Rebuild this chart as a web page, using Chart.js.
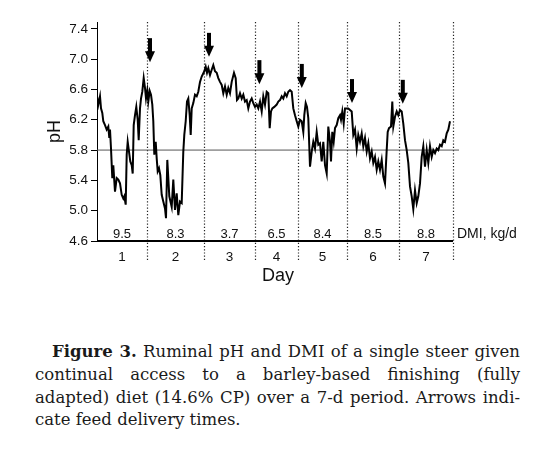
<!DOCTYPE html>
<html>
<head>
<meta charset="utf-8">
<script src="https://cdn.jsdelivr.net/npm/chart.js@4.4.0/dist/chart.umd.min.js"></script>
<style>
  body { margin: 0; background: #fff; }
  #wrap { position: relative; width: 534px; height: 449px; }
  #chartBox { position: absolute; left: 0; top: 0; width: 534px; height: 300px; }
  #caption { position: absolute; left: 35px; top: 341px; width: 485px;
    font-family: "DejaVu Serif", serif; font-size: 16.5px; line-height: 22.8px; color: #1a1a1a; }
  #caption div { text-align: justify; text-align-last: justify; }
  #caption div.first { text-indent: 17px; }
  #caption div.last { text-align: left; text-align-last: left; }
</style>
</head>
<body>
<div id="wrap">
  <div id="chartBox"><canvas id="phChart"></canvas></div>
  <div id="caption">
    <div class="first"><b>Figure 3.</b> Ruminal pH and DMI of a single steer given</div>
    <div>continual access to a barley-based finishing (fully</div>
    <div>adapted) diet (14.6% CP) over a 7-d period. Arrows indi-</div>
    <div class="last">cate feed delivery times.</div>
  </div>
</div>
<script>
// days (dotted lines mark the day boundaries, time in h)
const dayLabels = ['1', '2', '3', '4', '5', '6', '7'];
const dayBounds = [0, 25, 53.5, 79, 100.5, 125, 151, 178];
const dmiValues = ['9.5', '8.3', '3.7', '6.5', '8.4', '8.5', '8.8'];

// feed delivery arrows
const arrowTime = [26.5, 56, 81.2, 102.4, 127.5, 152.9];
const arrowTipPH = [6.96, 7.03, 6.67, 6.62, 6.42, 6.41];

const yTicks = [4.6, 5.0, 5.4, 5.8, 6.2, 6.6, 7.0, 7.4];
const refPH = 5.8;

// ruminal pH trace
const phTime = [0, 0.65, 1.5, 2, 2.65, 3.15, 4, 4.85, 5.65, 6.15, 6.5, 7, 7.65, 8.15, 9, 9.85, 10.65, 11.5, 12.35, 13.15,
  13.65, 14.35, 14.85, 15.35, 16, 16.65, 17.35, 17.85, 18.35, 19, 19.65, 20.35, 20.85, 21.5, 22, 22.65, 23.35, 24, 24.5, 25.15,
  25.65, 26.35, 27, 27.65, 28.15, 28.65, 29.35, 29.85, 30.35, 31, 31.65, 32.35, 33.15, 34, 34.5, 35.15, 36.15, 37.35, 38.15, 39,
  39.85, 40.65, 41.5, 42.35, 43.15, 43.65, 44.35, 45, 45.65, 46.35, 46.85, 47.35, 48.15, 49, 49.85, 50.65, 51.5, 52.35, 53.65, 54.35,
  55, 55.65, 56.5, 57.35, 58.15, 59, 59.85, 60.65, 61.5, 62.35, 63.15, 64, 64.85, 65.65, 66.5, 67.35, 68.5, 69.35, 70, 70.65,
  71.5, 72.35, 73.15, 74, 74.85, 75.65, 76.5, 77.35, 78.15, 79, 79.85, 80.65, 81.5, 82.35, 83.15, 84, 84.85, 85.65, 86.35, 87,
  87.65, 88.65, 89.85, 90.65, 91.5, 92.35, 93.15, 94, 94.85, 95.65, 96.5, 97.35, 98.15, 99, 99.85, 100.65, 101.5, 102.35, 103.15, 103.65,
  104.35, 105, 105.65, 106.5, 107.35, 108.15, 109, 109.85, 110.65, 111.5, 112.35, 113.15, 114, 114.85, 115.65, 116.5, 117, 117.65, 118.35, 119,
  119.85, 120.65, 121.5, 122, 122.65, 123.35, 124, 124.85, 125.65, 126.5, 127.35, 128.15, 129, 129.85, 130.65, 131.5, 132.35, 133.15, 134, 134.85,
  135.65, 136.5, 137.35, 138.15, 139, 139.85, 140.65, 141.5, 142.35, 143.15, 144, 144.85, 145.35, 146, 147, 147.65, 148.15, 149, 149.85, 150.65,
  151.5, 152.35, 153.15, 154, 154.85, 155.65, 156.5, 157.35, 158.15, 159, 159.85, 160.65, 161.5, 162.35, 163.15, 164, 164.85, 165.65, 166.5, 167.35,
  168.15, 169, 169.85, 170.65, 171.5, 172.35, 173.15, 174, 174.85, 175.65, 176.5];
const phValue = [6.51, 6.40, 6.51, 6.35, 6.29, 6.18, 6.13, 6.07, 6.11, 5.96, 6.07, 5.82, 5.43, 5.60, 5.25, 5.43, 5.41, 5.36, 5.21, 5.16,
  5.19, 5.08, 5.74, 5.91, 5.78, 5.65, 5.60, 5.49, 6.13, 6.26, 6.37, 6.20, 5.93, 6.35, 6.48, 6.57, 6.75, 6.62, 6.48, 6.59,
  6.44, 6.58, 6.53, 6.40, 6.18, 5.74, 5.91, 5.69, 5.52, 5.56, 5.47, 5.21, 5.12, 5.03, 4.90, 5.67, 5.19, 5.05, 5.41, 5.01,
  5.23, 4.94, 5.12, 5.10, 5.78, 6.00, 6.18, 6.44, 6.48, 6.26, 6.00, 6.35, 6.42, 6.53, 6.51, 6.57, 6.70, 6.77, 6.84, 6.90,
  6.82, 6.88, 6.79, 6.86, 6.92, 6.84, 6.82, 6.75, 6.70, 6.66, 6.55, 6.64, 6.53, 6.62, 6.55, 6.70, 6.82, 6.75, 6.46, 6.48,
  6.55, 6.48, 6.53, 6.44, 6.46, 6.35, 6.44, 6.48, 6.42, 6.37, 6.40, 6.35, 6.44, 6.31, 6.51, 6.40, 6.57, 6.55, 6.09, 6.31,
  6.35, 6.37, 6.40, 6.44, 6.46, 6.51, 6.48, 6.55, 6.51, 6.57, 6.59, 6.57, 6.35, 6.26, 6.18, 6.11, 6.20, 6.18, 6.04, 6.26,
  6.42, 6.37, 6.22, 5.58, 5.78, 5.91, 5.82, 6.04, 5.87, 5.89, 5.65, 5.91, 5.60, 5.49, 6.11, 5.91, 5.65, 6.04, 5.91, 6.09,
  6.13, 6.22, 6.26, 6.20, 6.31, 6.15, 6.35, 6.35, 6.35, 6.33, 6.31, 6.00, 6.07, 5.82, 6.00, 5.91, 6.02, 5.85, 5.96, 5.78,
  5.89, 5.69, 5.78, 5.63, 5.71, 5.54, 5.65, 5.54, 5.67, 5.45, 5.36, 5.80, 6.04, 6.09, 6.11, 6.44, 6.11, 6.24, 6.31, 6.26,
  6.33, 6.31, 6.15, 5.93, 5.80, 5.63, 5.32, 5.19, 5.02, 5.27, 5.10, 5.19, 5.36, 5.71, 5.85, 5.58, 5.80, 5.63, 5.85, 5.71,
  5.80, 5.76, 5.82, 5.80, 5.87, 5.85, 5.93, 5.91, 6.02, 6.07, 6.18];

const sansFont = '"Liberation Sans", Arial, sans-serif';

const decorPlugin = {
  id: 'decor',
  beforeDatasetsDraw(chart) {
    const { ctx, chartArea, scales: { x } } = chart;
    ctx.save();
    ctx.strokeStyle = '#222';
    ctx.lineWidth = 1.2;
    ctx.setLineDash([1.2, 2]);
    dayBounds.slice(1).forEach(b => {
      const px = Math.round(x.getPixelForValue(b)) + 0.5;
      ctx.beginPath();
      ctx.moveTo(px, chartArea.top);
      ctx.lineTo(px, chartArea.bottom + 19);
      ctx.stroke();
    });
    ctx.restore();
  },
  afterDatasetsDraw(chart) {
    const { ctx, chartArea, scales: { x, y } } = chart;
    ctx.save();
    // bottom axis line
    ctx.strokeStyle = '#000';
    ctx.lineWidth = 2;
    ctx.beginPath();
    ctx.moveTo(x.getPixelForValue(dayBounds[0]), chartArea.bottom);
    ctx.lineTo(x.getPixelForValue(dayBounds[dayBounds.length - 1]), chartArea.bottom);
    ctx.stroke();

    // DMI per day
    ctx.fillStyle = '#111';
    ctx.font = '13px ' + sansFont;
    ctx.textAlign = 'center';
    ctx.textBaseline = 'middle';
    dmiValues.forEach((v, i) => {
      const cx = x.getPixelForValue((dayBounds[i] + dayBounds[i + 1]) / 2);
      ctx.fillText(v, cx, chartArea.bottom - 7);
    });
    ctx.textAlign = 'left';
    ctx.font = '14px ' + sansFont;
    ctx.fillText('DMI, kg/d', x.getPixelForValue(dayBounds[dayBounds.length - 1]) + 4, chartArea.bottom - 7);

    // feed delivery arrows
    ctx.fillStyle = '#000';
    arrowTime.forEach((t, i) => {
      const ax = x.getPixelForValue(t);
      const tip = y.getPixelForValue(arrowTipPH[i]);
      ctx.fillRect(ax - 2, tip - 24, 4, 15);
      ctx.beginPath();
      ctx.moveTo(ax - 5, tip - 11);
      ctx.lineTo(ax + 5, tip - 11);
      ctx.lineTo(ax, tip);
      ctx.closePath();
      ctx.fill();
    });
    ctx.restore();
  }
};

new Chart(document.getElementById('phChart').getContext('2d'), {
  type: 'line',
  data: {
    datasets: [
      {
        data: phTime.map((t, i) => ({ x: t, y: phValue[i] })),
        borderColor: '#000', borderWidth: 2, pointRadius: 0, tension: 0, order: 1
      },
      {
        data: [{ x: 0, y: refPH }, { x: 181, y: refPH }],
        borderColor: '#555', borderWidth: 1, pointRadius: 0, order: 2
      }
    ]
  },
  options: {
    responsive: true,
    maintainAspectRatio: false,
    animation: false,
    layout: { padding: { left: 0, top: 22, right: 75, bottom: 0 } },
    plugins: { legend: { display: false }, tooltip: { enabled: false } },
    scales: {
      x: {
        type: 'linear', min: 0, max: 181,
        afterBuildTicks: s => { s.ticks = dayLabels.map((d, i) => ({ value: (dayBounds[i] + dayBounds[i + 1]) / 2 })); },
        afterFit: s => { s.height = 59; },
        ticks: {
          autoSkip: false, maxRotation: 0, padding: 8, color: '#111',
          font: { family: sansFont, size: 13.5 },
          callback: (v, i) => dayLabels[i]
        },
        grid: { display: false, drawTicks: false },
        border: { display: false },
        title: { display: true, text: 'Day', color: '#111', font: { family: sansFont, size: 18 }, padding: { top: 0, bottom: 13 } }
      },
      y: {
        min: 4.6, max: 7.49,
        afterBuildTicks: s => { s.ticks = yTicks.map(v => ({ value: v })); },
        afterFit: s => { s.width = 97; },
        ticks: {
          padding: 3, color: '#111',
          font: { family: sansFont, size: 13.5 },
          callback: v => v.toFixed(1)
        },
        grid: { drawOnChartArea: false, tickLength: 6, color: '#000' },
        border: { display: true, color: '#000', width: 1 },
        title: { display: true, text: 'pH', color: '#111', font: { family: sansFont, size: 18 }, padding: { top: 44, bottom: 0 } }
      }
    }
  },
  plugins: [decorPlugin]
});
</script>
</body>
</html>
